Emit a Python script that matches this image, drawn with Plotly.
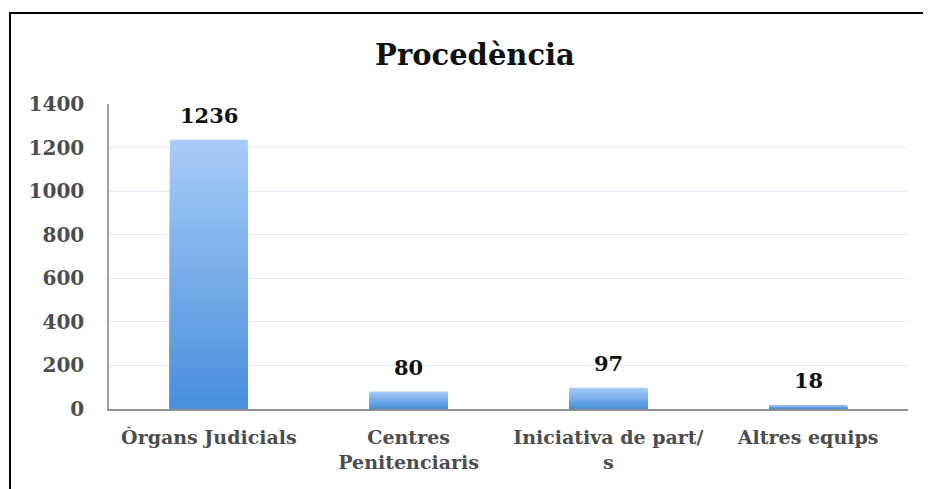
import plotly.graph_objects as go

# dades del gràfic
categories = ["Òrgans Judicials", "Centres<br>Penitenciaris", "Iniciativa de part/<br>s", "Altres equips"]
values = [1236, 80, 97, 18]
y_ticks = [0, 200, 400, 600, 800, 1000, 1200, 1400]

SERIF = "DejaVu Serif"

# degradat vertical de les barres (clar a dalt, fosc a baix)
top_rgb = (168, 203, 248)
bottom_rgb = (72, 143, 220)
steps = 40

fig = go.Figure()
for k in range(steps):
    t = k / (steps - 1)
    c = tuple(round(top_rgb[i] + (bottom_rgb[i] - top_rgb[i]) * t) for i in range(3))
    fig.add_trace(go.Bar(
        x=categories,
        y=[v * (1 - k / steps) for v in values],
        width=0.39,
        marker=dict(color="rgb(%d,%d,%d)" % c, line=dict(width=0)),
        showlegend=False,
        hoverinfo="skip",
    ))

# etiquetes de valor
for cat, v in zip(categories, values):
    fig.add_annotation(x=cat, y=v, text="<b>%d</b>" % v, showarrow=False,
                       yanchor="bottom", yshift=10,
                       font=dict(family=SERIF, size=21, color="#111"))

# marc negre exterior
fig.add_shape(type="rect", xref="paper", yref="paper",
              x0=-0.1239, x1=1.08, y0=-0.4, y1=1.2984,
              line=dict(color="black", width=2), layer="above")

# la pàgina té 8 px de marge, es compensa aquí
fig.update_layout(
    width=931, height=489,
    margin=dict(l=101, r=31, t=96, b=88),
    barmode="overlay",
    bargap=0.61,
    plot_bgcolor="white",
    paper_bgcolor="white",
    title=dict(text="<b>Procedència</b>", x=467 / 931, xanchor="center",
               y=1 - 47 / 489, yanchor="middle",
               font=dict(family=SERIF, size=29, color="#111")),
    font=dict(family=SERIF, color="#404040"),
)
fig.update_yaxes(range=[0, 1400], tickvals=y_ticks, showgrid=True,
                 gridcolor="#e0e8f4", gridwidth=1.2, zeroline=False,
                 showline=True, linecolor="#a0a0a0", linewidth=1.5,
                 ticks="", ticklabelstandoff=19,
                 tickfont=dict(family=SERIF, size=20, color="#4d4d4d", weight="bold"))
fig.update_xaxes(showline=True, linecolor="#909090", linewidth=2,
                 ticks="", ticklabelstandoff=10,
                 tickfont=dict(family=SERIF, size=19, color="#4d4d4d", weight="bold"))

fig.write_html("out.html")
